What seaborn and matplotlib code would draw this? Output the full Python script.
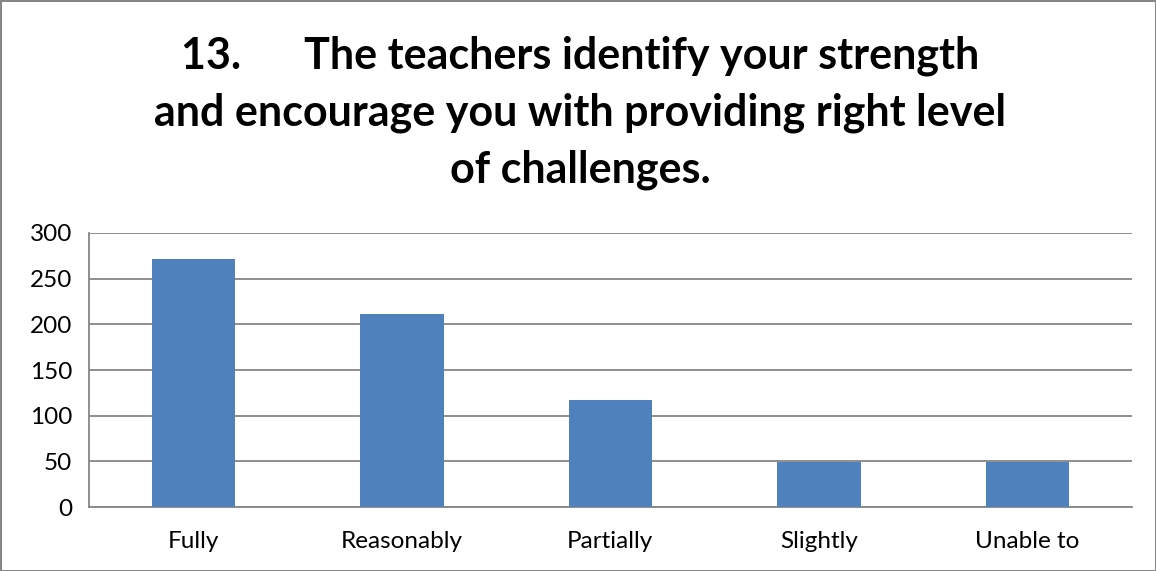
import matplotlib
import matplotlib.pyplot as plt
import numpy as np
import seaborn as sns
from matplotlib.ticker import FixedLocator

matplotlib.use("Agg")

# Data
categories = ["Fully", "Reasonably", "Partially", "Slightly", "Unable to"]
counts = [272, 211, 117, 49, 49]
y_ticks = [0, 50, 100, 150, 200, 250, 300]
title = ("13.      The teachers identify your strength\n"
         "and encourage you with providing right level\n"
         "of challenges.")

sns.set_style("white")
plt.rcParams["font.family"] = ["Lato", "DejaVu Sans"]

grey = "#868686"

fig = plt.figure(figsize=(11.56, 5.71), dpi=100)
fig.patch.set_edgecolor(grey)
fig.patch.set_linewidth(2)
ax = fig.add_axes([0.077, 0.112, 0.902, 0.480])

sns.barplot(x=categories, y=counts, color="#4F81BD", width=0.4,
            saturation=1, linewidth=0, ax=ax, zorder=3)

ax.set_ylim(0, 300)
ax.set_xlim(-0.5, len(categories) - 0.5)
ax.set_yticks(y_ticks)
ax.yaxis.grid(True, color=grey, linewidth=1.3, zorder=0)
ax.set_axisbelow(True)

for side in ["top", "right"]:
    ax.spines[side].set_visible(False)
for side in ["left", "bottom"]:
    ax.spines[side].set_color(grey)
    ax.spines[side].set_linewidth(1.3)

ax.tick_params(axis="y", length=7, width=1.3, color=grey, labelsize=17.5,
               pad=5, labelcolor="black")
ax.tick_params(axis="x", which="major", length=0, labelsize=17.5, pad=17,
               labelcolor="black")
ax.xaxis.set_minor_locator(FixedLocator(np.arange(-0.5, len(categories), 1.0)))
ax.tick_params(axis="x", which="minor", length=7, width=1.3, color=grey)
ax.set_xlabel("")
ax.set_ylabel("")

fig.text(0.502, 0.937, title, ha="center", va="top", fontsize=31,
         fontweight="bold", linespacing=1.5, color="black")

fig.savefig("out.png", dpi=100, edgecolor=fig.get_edgecolor())
